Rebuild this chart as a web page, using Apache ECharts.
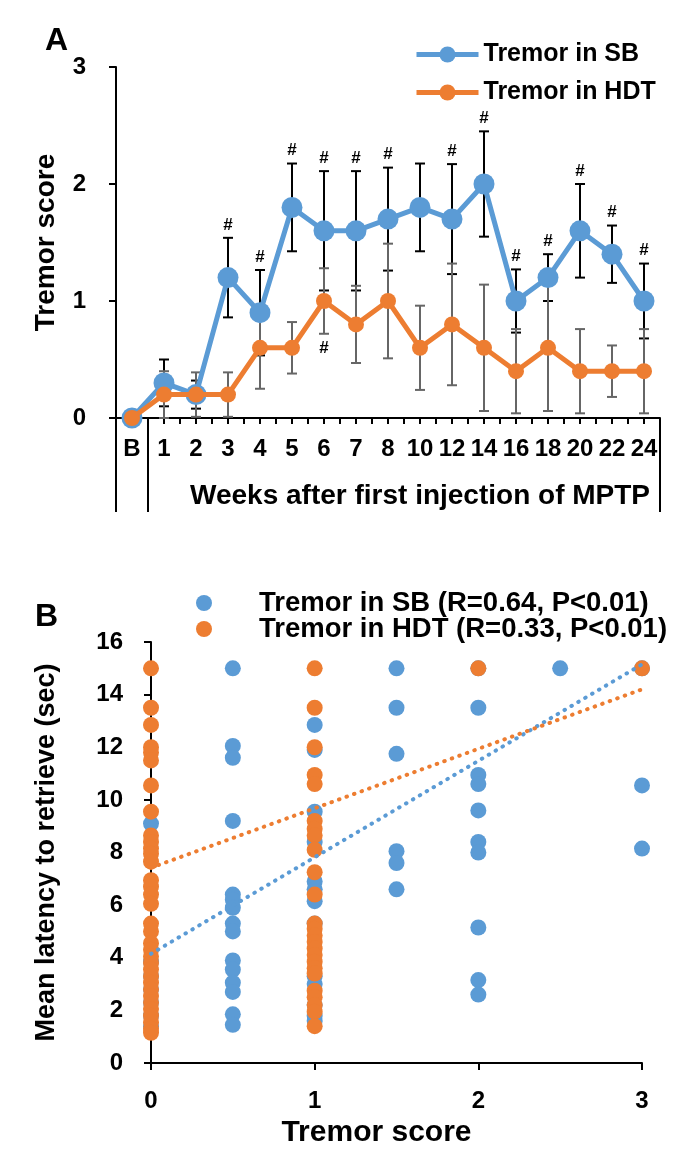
<!DOCTYPE html>
<html><head><meta charset="utf-8">
<script src="https://cdn.jsdelivr.net/npm/echarts@6/dist/echarts.min.js"></script>
<style>html,body{margin:0;padding:0;background:#fff}#c{width:688px;height:1158px}</style>
</head><body><div id="c"></div>
<script>
// ---------- Panel A data ----------
const weeks   = ['B','1','2','3','4','5','6','7','8','10','12','14','16','18','20','22','24'];
const sbMean  = [0,0.3,0.2,1.2,0.9,1.8,1.6,1.6,1.7,1.8,1.7,2.0,1.0,1.2,1.6,1.4,1.0];
const sbSD    = [0,0.2,0.12,0.34,0.365,0.375,0.51,0.51,0.44,0.375,0.47,0.45,0.27,0.2,0.4,0.245,0.32];
const hdtMean = [0,0.2,0.2,0.2,0.6,0.6,1.0,0.8,1.0,0.6,0.8,0.6,0.4,0.6,0.4,0.4,0.4];
const hdtSD   = [0,0.2,0.19,0.19,0.35,0.22,0.28,0.33,0.49,0.36,0.52,0.54,0.36,0.54,0.36,0.22,0.36];
const sbSig   = [0,0,0,1,1,1,1,1,1,0,1,1,1,1,1,1,1];
const hdtSig  = [0,0,0,0,0,0,1,0,0,0,0,0,0,0,0,0,0];

// ---------- Panel B data ----------
const sbScore = [0,0,0,0,0,0,0,
  0.5,0.5,0.5,0.5,0.5,0.5,0.5,0.5,0.5,0.5,0.5,0.5,0.5,0.5,0.5,
  1,1,1,1,1,1,1,1,1,1,1,1,1,
  1.5,1.5,1.5,1.5,1.5,1.5,
  2,2,2,2,2,2,2,2,2,2,
  2.5,
  3,3,3];
const sbLatency = [9.1,3.85,3.3,2.8,2.3,1.8,1.4,
  15.0,12.05,11.6,9.2,6.4,6.2,5.9,5.3,5.0,3.9,3.55,3.05,2.7,1.85,1.45,
  12.85,11.9,9.55,8.4,6.9,6.6,6.15,5.3,3.3,3.0,2.2,1.8,1.6,
  15.0,13.5,11.75,8.05,7.6,6.6,
  15.0,13.5,10.95,10.6,9.6,8.4,8.0,5.15,3.15,2.6,
  15.0,
  15.0,10.55,8.15];
const hdtScore = [0,0,0,0,0,0,0,0,0,0,0,0,0,0,0,0,0,0,0,0,0,0,0,0,0,0,0,0,0,0,0,0,0,0,
  1,1,1,1,1,1,1,1,1,1,1,1,1,1,1,1,1,1,1,1,1,1,1,1,1,
  2,3];
const hdtLatency = [15.0,13.5,12.85,12.0,11.8,11.5,10.55,9.55,8.65,8.4,8.15,7.95,7.65,6.95,6.7,6.4,6.05,5.3,5.0,4.55,4.3,4.05,3.8,3.55,3.3,3.05,2.8,2.55,2.3,2.05,1.8,1.55,1.3,1.15,
  15.0,13.5,12.0,10.95,10.6,9.2,8.9,8.65,8.1,7.25,6.4,5.3,5.1,4.85,4.6,4.35,4.1,3.85,3.6,3.4,2.75,2.5,2.2,1.95,1.4,
  15.0,15.0];
// linear trend line endpoints (score, latency)
const sbTrend  = [[0,4.15],[3,15.15]];
const hdtTrend = [[0,7.42],[3,14.2]];

const BLUE = '#5B9BD5', ORANGE = '#ED7D31';
const FF = '"Liberation Sans", Arial, sans-serif';
const bold = (s) => ({fontFamily: FF, fontWeight: 'bold', fontSize: s, color: '#000'});

function errRender(color, below) {
  return function (params, api) {
    const i = api.value(0), m = api.value(1), s = api.value(2), sig = api.value(3);
    const top = api.coord([i, m + s]);
    const bot = api.coord([i, m - s]);
    const hw = 5;
    const st = {stroke: color, lineWidth: 2};
    const ch = [];
    if (s > 0) {
      ch.push({type: 'line', shape: {x1: top[0], y1: top[1], x2: bot[0], y2: bot[1]}, style: st});
      ch.push({type: 'line', shape: {x1: top[0] - hw, y1: top[1], x2: top[0] + hw, y2: top[1]}, style: st});
      ch.push({type: 'line', shape: {x1: bot[0] - hw, y1: bot[1], x2: bot[0] + hw, y2: bot[1]}, style: st});
    }
    if (sig) {
      ch.push({type: 'text', x: top[0], y: below ? bot[1] + 15 : top[1] - 13,
        style: {text: '#', fill: '#000', font: 'bold 17px ' + FF, align: 'center', verticalAlign: 'middle'}});
    }
    return {type: 'group', children: ch};
  };
}

const idx = weeks.map((w, i) => i);
const sbLine = idx.map(i => [i, sbMean[i]]);
const hdtLine = idx.map(i => [i, hdtMean[i]]);
const sbErr = idx.map(i => [i, sbMean[i], sbSD[i], sbSig[i]]);
const hdtErr = idx.map(i => [i, hdtMean[i], hdtSD[i], hdtSig[i]]);
const sbPts = sbScore.map((x, i) => [x, sbLatency[i]]);
const hdtPts = hdtScore.map((x, i) => [x, hdtLatency[i]]);

const chart = echarts.init(document.getElementById('c'), null, {renderer: 'canvas'});
const axLine = {show: true, onZero: false, lineStyle: {color: '#000', width: 2}};
const option = {
  animation: false,
  backgroundColor: '#fff',
  title: [
    {text: 'A', left: 40, top: 20, textStyle: bold(32)},
    {text: 'B', left: 30, top: 596, textStyle: bold(32)}
  ],
  legend: [
    {data: ['Tremor in SB', 'Tremor in HDT'], orient: 'vertical', left: 409, top: 37,
     itemWidth: 62, itemHeight: 20, itemGap: 13, textStyle: bold(25), selectedMode: false,
     lineStyle: {width: 5}},
    {data: ['Tremor in SB (R=0.64, P<0.01)', 'Tremor in HDT (R=0.33, P<0.01)'], orient: 'vertical',
     left: 191, top: 584, itemWidth: 100, itemHeight: 16, itemGap: -2,
     textStyle: Object.assign(bold(27.5), {lineHeight: 26}), selectedMode: false}
  ],
  grid: [
    {left: 116, right: 28, top: 67, height: 351, outerBoundsMode: 'none'},
    {left: 151, right: 46, top: 642, height: 421, outerBoundsMode: 'none'}
  ],
  xAxis: [
    {gridIndex: 0, type: 'value', min: -0.5, max: 16.5, interval: 0.5,
     axisLine: axLine, splitLine: {show: false},
     axisTick: {show: true, inside: false, length: 6, lineStyle: {color: '#000', width: 2}},
     axisLabel: Object.assign(bold(24), {margin: 19, showMinLabel: true, showMaxLabel: true,
       formatter: v => (Math.abs(v - Math.round(v)) < 1e-6 && weeks[Math.round(v)] !== undefined) ? weeks[Math.round(v)] : ''}),
     name: 'Weeks after first injection of MPTP', nameLocation: 'middle', nameGap: 64,
     nameTextStyle: Object.assign(bold(28), {padding: [0, 0, 0, 64]})},
    {gridIndex: 1, type: 'value', min: 0, max: 3, interval: 1,
     axisLine: axLine, splitLine: {show: false},
     axisTick: {show: true, inside: false, length: 7, lineStyle: {color: '#000', width: 2}},
     axisLabel: Object.assign(bold(24), {margin: 26}),
     name: 'Tremor score', nameLocation: 'middle', nameGap: 55,
     nameTextStyle: Object.assign(bold(30), {padding: [0, 40, 0, 0]})}
  ],
  yAxis: [
    {gridIndex: 0, type: 'value', min: 0, max: 3, interval: 1,
     axisLine: axLine, splitLine: {show: false},
     axisTick: {show: true, inside: false, length: 7, lineStyle: {color: '#000', width: 2}},
     axisLabel: Object.assign(bold(24), {margin: 30}),
     name: 'Tremor score', nameLocation: 'middle', nameGap: 56, nameTextStyle: bold(28)},
    {gridIndex: 1, type: 'value', min: 0, max: 16, interval: 2,
     axisLine: axLine, splitLine: {show: false},
     axisTick: {show: true, inside: false, length: 7, lineStyle: {color: '#000', width: 2}},
     axisLabel: Object.assign(bold(24), {margin: 28}),
     name: 'Mean latency to retrieve (sec)', nameLocation: 'middle', nameGap: 91, nameTextStyle: bold(27)}
  ],
  series: [
    {type: 'custom', name: 'sbErr', xAxisIndex: 0, yAxisIndex: 0, data: sbErr,
     renderItem: errRender('#000', false), encode: {x: 0, y: 1}, z: 1, silent: true},
    {type: 'custom', name: 'hdtErr', xAxisIndex: 0, yAxisIndex: 0, data: hdtErr,
     renderItem: errRender('#666', true), encode: {x: 0, y: 1}, z: 1, silent: true},
    {type: 'line', name: 'Tremor in SB', xAxisIndex: 0, yAxisIndex: 0, data: sbLine,
     symbol: 'circle', symbolSize: 21, itemStyle: {color: BLUE}, lineStyle: {color: BLUE, width: 5}, z: 3},
    {type: 'line', name: 'Tremor in HDT', xAxisIndex: 0, yAxisIndex: 0, data: hdtLine,
     symbol: 'circle', symbolSize: 16, itemStyle: {color: ORANGE}, lineStyle: {color: ORANGE, width: 5}, z: 4},
    {type: 'scatter', name: 'Tremor in SB (R=0.64, P<0.01)', xAxisIndex: 1, yAxisIndex: 1, data: sbPts,
     symbolSize: 16, itemStyle: {color: BLUE, opacity: 1}, z: 2},
    {type: 'scatter', name: 'Tremor in HDT (R=0.33, P<0.01)', xAxisIndex: 1, yAxisIndex: 1, data: hdtPts,
     symbolSize: 16, itemStyle: {color: ORANGE, opacity: 1}, z: 3},
    {type: 'line', name: 'sbTrend', xAxisIndex: 1, yAxisIndex: 1, data: sbTrend, symbol: 'none',
     lineStyle: {color: BLUE, width: 4, type: [0.5, 7.5], cap: 'round'}, z: 5, silent: true},
    {type: 'line', name: 'hdtTrend', xAxisIndex: 1, yAxisIndex: 1, data: hdtTrend, symbol: 'none',
     lineStyle: {color: ORANGE, width: 4, type: [0.5, 7.5], cap: 'round'}, z: 5, silent: true}
  ]
};
chart.setOption(option);

// extra frame lines below panel A's axis (category-group separators)
const ext = 94;
const sepX = [-0.5, 0.5, 16.5];
const g = sepX.map(v => {
  const p = chart.convertToPixel({xAxisIndex: 0, yAxisIndex: 0}, [v, 0]);
  return {type: 'line', shape: {x1: p[0], y1: p[1], x2: p[0], y2: p[1] + ext},
          style: {stroke: '#000', lineWidth: 2}, z: 10};
});
chart.setOption({graphic: g});
</script>
</body></html>
